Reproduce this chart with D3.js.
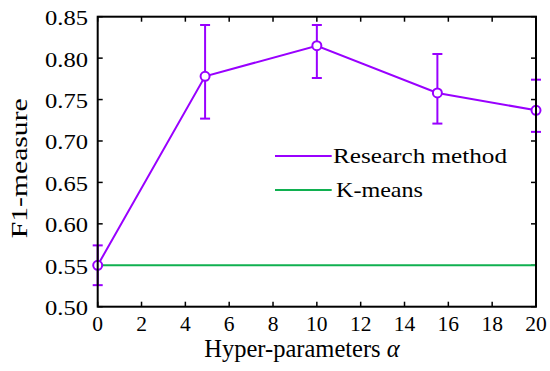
<!DOCTYPE html>
<html>
<head>
<meta charset="utf-8">
<script src="https://cdn.jsdelivr.net/npm/d3@7"></script>
<style>
    body { margin: 0; background: #fff; }
    text { font-family: "Liberation Serif", "Times New Roman", serif; fill: #000; }
</style>
</head>
<body>
<svg id="chart" width="550" height="371"></svg>
<script>
// values
var alphaValues = [0, 4.9, 10, 15.5, 20];
var researchMean = [0.55, 0.778, 0.815, 0.758, 0.737];
var researchUpper = [0.574, 0.840, 0.840, 0.805, 0.774];
var researchLower = [0.526, 0.727, 0.776, 0.721, 0.711];
var kmeansAlpha = [0, 20];
var kmeansValue = [0.55, 0.55];
var xTicks = [0, 2, 4, 6, 8, 10, 12, 14, 16, 18, 20];
var yTicks = [0.50, 0.55, 0.60, 0.65, 0.70, 0.75, 0.80, 0.85];
var legendNames = ['Research method', 'K-means'];

var purple = '#9900ff';
var green = '#10b050';

var margin = { left: 97.7, right: 14, top: 16.7, bottom: 64.3 };
var width = 550 - margin.left - margin.right;
var height = 371 - margin.top - margin.bottom;

var svg = d3.select('#chart');
var g = svg.append('g')
    .attr('transform', 'translate(' + margin.left + ',' + margin.top + ')');

var x = d3.scaleLinear().domain([0, 20]).range([0, width]);
var y = d3.scaleLinear().domain([0.5, 0.85]).range([height, 0]);

// inward ticks on all four sides
var tickLen = 5;
function tickLines(data, x1, x2, y1, y2) {
    g.append('g').selectAll('line').data(data).enter().append('line')
        .attr('x1', x1).attr('x2', x2)
        .attr('y1', y1).attr('y2', y2)
        .attr('stroke', '#000').attr('stroke-width', 1.5);
}
tickLines(xTicks, function (d) { return x(d); }, function (d) { return x(d); }, height, height - tickLen);
tickLines(xTicks, function (d) { return x(d); }, function (d) { return x(d); }, 0, tickLen);
tickLines(yTicks, 0, tickLen, function (d) { return y(d); }, function (d) { return y(d); });
tickLines(yTicks, width, width - tickLen, function (d) { return y(d); }, function (d) { return y(d); });

// tick labels
g.append('g').selectAll('text').data(xTicks).enter().append('text')
    .attr('x', function (d) { return x(d); })
    .attr('y', height + 24)
    .attr('text-anchor', 'middle')
    .style('font-size', '21.5px')
    .text(function (d) { return d; });
g.append('g').selectAll('text').data(yTicks).enter().append('text')
    .attr('x', -52.7)
    .attr('y', function (d) { return y(d) + 8.5; })
    .attr('textLength', 43)
    .attr('lengthAdjust', 'spacingAndGlyphs')
    .style('font-size', '21px')
    .text(function (d) { return d3.format('.2f')(d); });

// k-means baseline
var line = d3.line()
    .x(function (d) { return x(d[0]); })
    .y(function (d) { return y(d[1]); });
g.append('path')
    .datum(d3.zip(kmeansAlpha, kmeansValue))
    .attr('d', line)
    .attr('fill', 'none')
    .attr('stroke', green)
    .attr('stroke-width', 2);

// research method line
g.append('path')
    .datum(d3.zip(alphaValues, researchMean))
    .attr('d', line)
    .attr('fill', 'none')
    .attr('stroke', purple)
    .attr('stroke-width', 2);

// error bars with caps
var capW = 5;
alphaValues.forEach(function (a, i) {
    var cx = x(a);
    g.append('line')
        .attr('x1', cx).attr('x2', cx)
        .attr('y1', y(researchUpper[i])).attr('y2', y(researchLower[i]))
        .attr('stroke', purple).attr('stroke-width', 2);
    [researchUpper[i], researchLower[i]].forEach(function (v) {
        g.append('line')
            .attr('x1', cx - capW).attr('x2', cx + capW)
            .attr('y1', y(v)).attr('y2', y(v))
            .attr('stroke', purple).attr('stroke-width', 2);
    });
});

// open markers
g.append('g').selectAll('circle').data(d3.zip(alphaValues, researchMean)).enter().append('circle')
    .attr('cx', function (d) { return x(d[0]); })
    .attr('cy', function (d) { return y(d[1]); })
    .attr('r', 4.5)
    .attr('fill', '#fff')
    .attr('stroke', purple)
    .attr('stroke-width', 2);

// frame
g.append('rect')
    .attr('width', width)
    .attr('height', height)
    .attr('fill', 'none')
    .attr('stroke', '#000')
    .attr('stroke-width', 2);

// legend
var legendColors = [purple, green];
var legendLengths = [174, 87];
legendNames.forEach(function (name, i) {
    var ly = 139.3 + i * 34;
    g.append('line')
        .attr('x1', 177.3).attr('x2', 234)
        .attr('y1', ly).attr('y2', ly)
        .attr('stroke', legendColors[i]).attr('stroke-width', 2);
    g.append('text')
        .attr('x', 235.3 + (i === 1 ? 3 : 0))
        .attr('y', ly + 7.5)
        .attr('textLength', legendLengths[i])
        .attr('lengthAdjust', 'spacingAndGlyphs')
        .style('font-size', '21.5px')
        .text(name);
});

// axis titles
svg.append('text')
    .attr('x', 204.3)
    .attr('y', 356.7)
    .style('font-size', '24.5px')
    .text('Hyper-parameters ')
    .append('tspan')
    .style('font-style', 'italic')
    .text('\u03b1');
svg.append('text')
    .attr('transform', 'translate(26.7,168.3) rotate(-90)')
    .attr('text-anchor', 'middle')
    .attr('textLength', 140)
    .attr('lengthAdjust', 'spacingAndGlyphs')
    .style('font-size', '22.5px')
    .text('F1-measure');
</script>
</body>
</html>
